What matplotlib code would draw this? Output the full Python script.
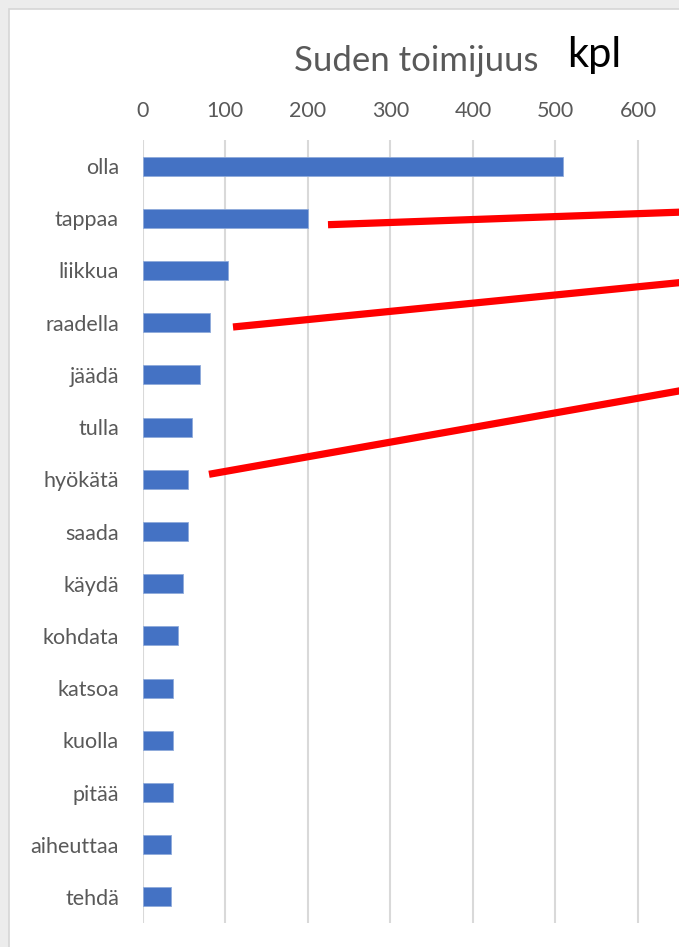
"""Horizontal bar chart of verbs where the wolf acts as the agent."""

import matplotlib

matplotlib.use("Agg")
import matplotlib.pyplot as plt
from matplotlib.lines import Line2D
from matplotlib.patches import Rectangle

VERBS = [
  "olla", "tappaa", "liikkua", "raadella", "jäädä", "tulla", "hyökätä", "saada",
  "käydä", "kohdata", "katsoa", "kuolla", "pitää", "aiheuttaa", "tehdä",
]
COUNTS = [509, 200, 104, 82, 70, 60, 55, 55, 49, 43, 37, 37, 37, 35, 34]
X_TICKS = [0, 100, 200, 300, 400, 500, 600]

# red highlight strokes drawn over the screenshot, in pixels (x, y from top)
HIGHLIGHTS = [
  ((328, 224.7), (690, 211.8)),
  ((233, 327.0), (690, 281.6)),
  ((209, 474.3), (690, 389.0)),
]

WIDTH, HEIGHT = 679, 947
TEXT_GREY = "#595959"
FONT = "Lato"


def px(x, y):
  return x / WIDTH, 1 - y / HEIGHT


def main():
  plt.rcParams["font.family"] = [FONT, "DejaVu Sans"]
  fig = plt.figure(figsize=(WIDTH / 100, HEIGHT / 100), dpi=100, facecolor="#ececec")

  # white chart area of the screenshot, running off the right and bottom edges
  fig.patches.append(Rectangle(
    px(9, 990), 700 / WIDTH, (990 - 9) / HEIGHT, transform=fig.transFigure,
    facecolor="white", edgecolor="#d6d6d6", linewidth=1.2, zorder=-5,
  ))

  left, right = 142.5, 142.5 + 7 * 82.6
  top, bottom = 140, 923
  axis = fig.add_axes([left / WIDTH, 1 - bottom / HEIGHT, (right - left) / WIDTH, (bottom - top) / HEIGHT])
  axis.set_facecolor("none")
  axis.set_zorder(2)

  positions = range(len(VERBS))
  axis.barh(positions, COUNTS, height=0.365, color="#4472C4", edgecolor="#8eaadb", linewidth=0.6, zorder=3)
  axis.set_xlim(0, 700)
  axis.set_ylim(len(VERBS) - 0.5, -0.5)
  axis.set_yticks(list(positions), VERBS)
  axis.set_xticks(X_TICKS)
  axis.xaxis.tick_top()
  axis.tick_params(axis="x", length=0, pad=14, labelsize=15.5, labelcolor=TEXT_GREY)
  axis.tick_params(axis="y", length=0, pad=17, labelsize=15.5, labelcolor=TEXT_GREY)
  axis.grid(axis="x", color="#d9d9d9", linewidth=1.5, zorder=0)
  for spine in axis.spines.values():
    spine.set_visible(False)

  fig.text(*px(416, 71), "Suden toimijuus", ha="center", va="baseline", fontsize=25, color=TEXT_GREY)
  fig.text(*px(567, 67), "kpl", ha="left", va="baseline", fontsize=30, color="black")

  for start, end in HIGHLIGHTS:
    (x0, y0), (x1, y1) = px(*start), px(*end)
    fig.add_artist(Line2D([x0, x1], [y0, y1], transform=fig.transFigure, color="#ff0000",
                          linewidth=5.2, solid_capstyle="butt", zorder=10))

  fig.savefig("out.png", dpi=100, facecolor=fig.get_facecolor())
  plt.close(fig)


if __name__ == "__main__":
  main()
